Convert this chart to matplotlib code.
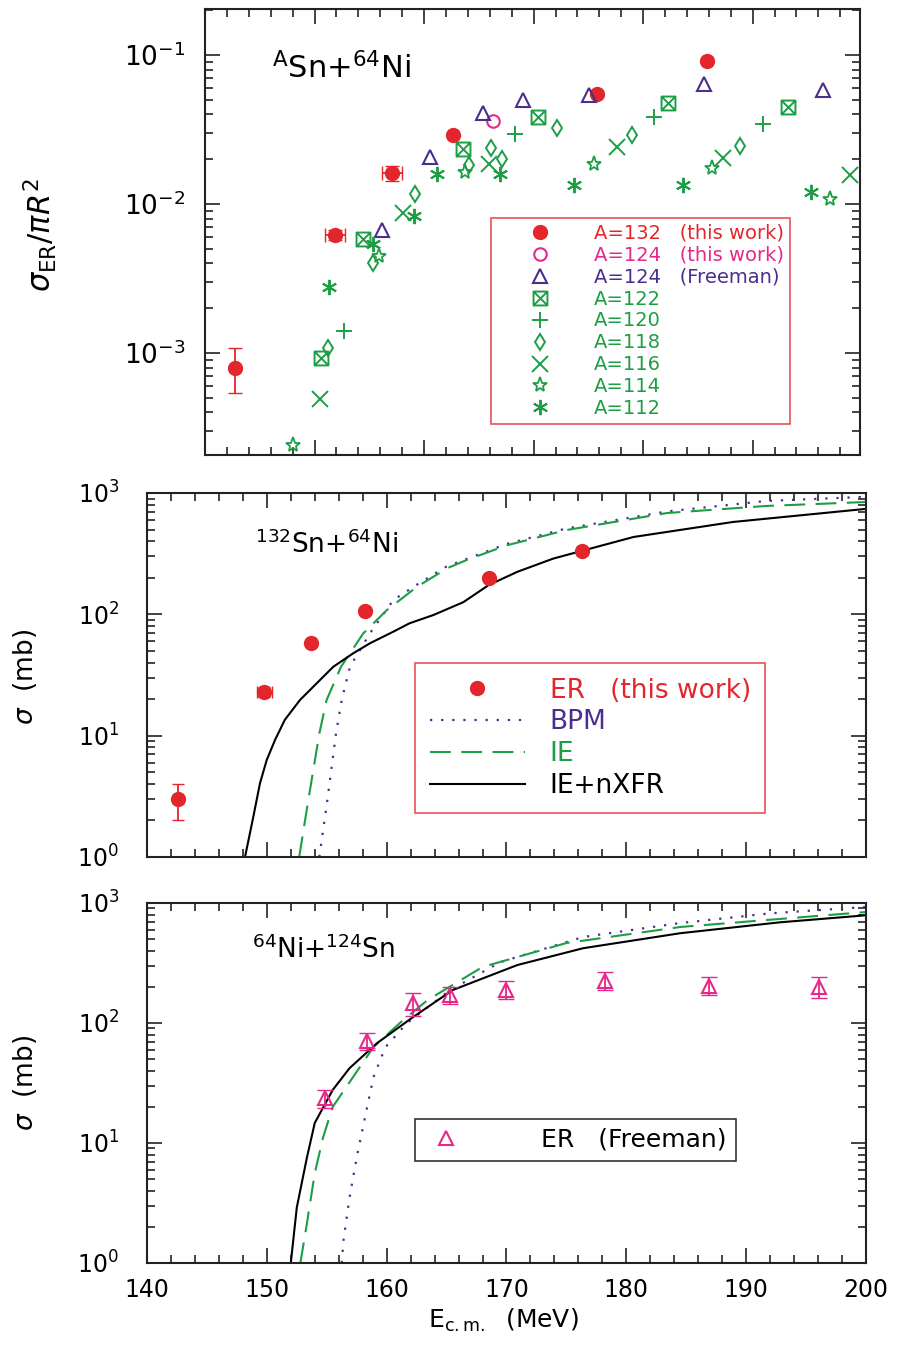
import matplotlib
matplotlib.use("Agg")
import matplotlib.pyplot as plt
from matplotlib.path import Path
from matplotlib.ticker import MultipleLocator, LogLocator, NullFormatter
import numpy as np

RED = "#e3262b"
PINK = "#e5288a"
PURPLE = "#4a2e8f"
GREEN = "#1c9e45"

# ---- top panel: sigma_ER / pi R^2 (x axis unlabeled in original, arbitrary units)
a132_x = [0.27, 1.19, 1.71, 2.26, 3.58, 4.58]
a132_y = [8.0e-4, 6.2e-3, 1.61e-2, 2.9e-2, 5.5e-2, 9.1e-2]
a132_ylo = [5.4e-4, 5.7e-3, 1.42e-2, 2.9e-2, 5.5e-2, 9.1e-2]
a132_yhi = [1.08e-3, 6.7e-3, 1.81e-2, 2.9e-2, 5.5e-2, 9.1e-2]
a132_xerr = [0.0, 0.09, 0.09, 0.0, 0.0, 0.0]

a124_x = [2.63]
a124_y = [3.6e-2]

fr124_x = [1.62, 2.05, 2.54, 2.90, 3.51, 4.56, 5.64]
fr124_y = [6.7e-3, 2.07e-2, 4.08e-2, 5.0e-2, 5.4e-2, 6.4e-2, 5.8e-2]

a122_x = [1.06, 1.44, 2.36, 3.04, 4.23, 5.32]
a122_y = [9.2e-4, 5.8e-3, 2.34e-2, 3.84e-2, 4.76e-2, 4.48e-2]

a120_x = [1.27, 2.83, 4.10, 5.09]
a120_y = [1.41e-3, 2.95e-2, 3.84e-2, 3.44e-2]

a118_x = [1.12, 1.53, 1.92, 2.41, 2.61, 2.71, 3.21, 3.90, 4.88]
a118_y = [1.08e-3, 4.0e-3, 1.17e-2, 1.83e-2, 2.38e-2, 2.0e-2, 3.24e-2, 2.9e-2, 2.45e-2]

a116_x = [1.05, 1.81, 2.59, 3.76, 4.73, 5.89]
a116_y = [4.9e-4, 8.7e-3, 1.85e-2, 2.41e-2, 2.04e-2, 1.57e-2]

a114_x = [0.80, 1.59, 2.37, 3.55, 4.63, 5.71]
a114_y = [2.4e-4, 4.5e-3, 1.64e-2, 1.85e-2, 1.75e-2, 1.08e-2]

a112_x = [1.13, 1.53, 1.91, 2.12, 2.69, 3.37, 4.36, 5.53]
a112_y = [2.77e-3, 5.4e-3, 8.3e-3, 1.59e-2, 1.59e-2, 1.34e-2, 1.34e-2, 1.2e-2]

# ---- middle panel: 132Sn+64Ni
mid_er_x = [142.6, 149.8, 153.7, 158.2, 168.5, 176.3]
mid_er_y = [3.0, 23.0, 58.0, 106.0, 199.0, 333.0]
mid_er_yerr = [1.0, 2.0, 4.0, 6.0, 10.0, 15.0]
mid_er_xerr = [0.0, 0.6, 0.3, 0.0, 0.0, 0.0]

mid_bpm_x = [154.38, 155.05, 155.77, 156.25, 156.94, 158.6, 160.55, 162.5, 165.0, 170.0, 175.0, 183.4, 191.7, 200.0]
mid_bpm_y = [1.0, 2.94, 10.4, 19.7, 37.0, 69.7, 131.0, 175.0, 248.0, 380.0, 510.0, 705.0, 860.0, 930.0]

mid_ie_x = [152.7, 153.46, 154.38, 154.99, 156.19, 158.05, 160.0, 162.5, 165.1, 166.7, 170.0, 175.0, 183.4, 191.7, 200.0]
mid_ie_y = [1.0, 2.94, 10.4, 19.7, 37.0, 69.7, 108.0, 168.0, 241.0, 281.0, 370.0, 495.0, 684.0, 782.0, 843.0]

mid_iex_x = [148.18, 148.87, 149.43, 149.99, 150.68, 151.5, 152.77, 154.16, 155.55, 157.2, 158.6,
             160.55, 161.9, 163.9, 166.4, 168.5, 170.9, 173.9, 180.6, 188.9, 200.0]
mid_iex_y = [1.0, 2.14, 4.06, 6.3, 9.2, 13.5, 19.7, 27.0, 37.0, 47.7, 57.7,
             71.9, 84.3, 98.7, 126.0, 174.0, 224.0, 288.0, 434.0, 577.0, 740.0]

# ---- bottom panel: 64Ni+124Sn
bot_er_x = [154.85, 158.4, 162.2, 165.3, 170.0, 178.2, 186.9, 196.1]
bot_er_y = [23.7, 70.8, 147.0, 171.0, 188.0, 224.0, 203.0, 200.0]
bot_er_lo = [19.5, 59.6, 115.0, 145.0, 158.0, 188.0, 171.0, 162.0]
bot_er_hi = [27.5, 82.5, 178.0, 200.0, 224.0, 266.0, 241.0, 241.0]

bot_bpm_x = [156.25, 156.4, 156.9, 157.5, 158.2, 158.9, 159.9, 161.7, 165.3, 169.5, 176.4, 184.5, 192.0, 200.0]
bot_bpm_y = [1.0, 1.55, 3.5, 7.6, 16.5, 35.5, 63.0, 100.0, 188.0, 322.0, 521.0, 681.0, 820.0, 926.0]

bot_ie_x = [152.8, 153.35, 154.0, 154.7, 155.5, 157.2, 158.9, 161.1, 163.4, 168.0, 175.0, 184.5, 200.0]
bot_ie_y = [1.0, 2.15, 5.6, 11.2, 20.0, 35.5, 63.0, 100.0, 155.0, 293.0, 464.0, 631.0, 841.0]

bot_iex_x = [152.0, 152.5, 153.35, 154.0, 155.5, 156.9, 159.2, 162.2, 165.5, 170.9, 176.4, 184.5, 192.8, 200.0]
bot_iex_y = [1.0, 2.9, 7.6, 14.7, 27.7, 42.0, 68.0, 112.0, 188.0, 304.0, 420.0, 560.0, 690.0, 790.0]


box_x = Path([(-1, -1), (1, -1), (1, 1), (-1, 1), (-1, -1), (1, 1), (-1, 1), (1, -1)],
             [Path.MOVETO, Path.LINETO, Path.LINETO, Path.LINETO, Path.LINETO,
              Path.LINETO, Path.MOVETO, Path.LINETO])

W, H = 900, 1345
fig = plt.figure(figsize=(9, 13.45), dpi=100)


def add_ax(l, t, r, b):
    return fig.add_axes([l / W, 1 - b / H, (r - l) / W, (b - t) / H])


def style(ax, ypad):
    ax.set_yscale("log")
    ax.tick_params(which="both", direction="in", top=True, right=True, width=1.2, color="#222")
    ax.tick_params(which="major", length=11, labelsize=17)
    ax.tick_params(which="minor", length=6)
    ax.tick_params(axis="y", pad=ypad)
    ax.tick_params(axis="x", pad=11)
    ax.yaxis.set_minor_locator(LogLocator(base=10, subs=np.arange(2, 10)))
    ax.yaxis.set_minor_formatter(NullFormatter())
    for s in ax.spines.values():
        s.set_linewidth(1.5)
        s.set_color("#222")


ax1 = add_ax(205, 9, 860, 455)
ax2 = add_ax(147, 493, 866, 857)
ax3 = add_ax(147, 903, 866, 1263)

# ---------------- top
style(ax1, 14)
ax1.tick_params(axis="y", which="major", labelsize=19)
ax1.set_xlim(0, 5.98)
ax1.set_ylim(2.07e-4, 0.204)
ax1.xaxis.set_major_locator(MultipleLocator(1))
ax1.xaxis.set_minor_locator(MultipleLocator(0.2))
ax1.tick_params(axis="x", labelbottom=False)

ax1.errorbar(a132_x, a132_y,
             yerr=[np.array(a132_y) - np.array(a132_ylo), np.array(a132_yhi) - np.array(a132_y)],
             xerr=a132_xerr, fmt="none", ecolor=RED, elinewidth=1.3, capsize=5)
h = []
h += ax1.plot(a132_x, a132_y, "o", color=RED, ms=10, label="A=132   (this work)")
h += ax1.plot(a124_x, a124_y, "o", mfc="none", mec=PINK, mew=1.5, ms=9, label="A=124   (this work)")
h += ax1.plot(fr124_x, fr124_y, "^", mfc="none", mec=PURPLE, mew=1.5, ms=10, label="A=124   (Freeman)")
h += ax1.plot(a122_x, a122_y, marker=box_x, ls="none", mfc="none", mec=GREEN, mew=1.4, ms=10, label="A=122")
h += ax1.plot(a120_x, a120_y, "+", color=GREEN, mew=1.4, ms=12, label="A=120")
h += ax1.plot(a118_x, a118_y, "d", mfc="none", mec=GREEN, mew=1.4, ms=8, label="A=118")
h += ax1.plot(a116_x, a116_y, "x", color=GREEN, mew=1.4, ms=11, label="A=116")
h += ax1.plot(a114_x, a114_y, "*", mfc="none", mec=GREEN, mew=1.3, ms=11, label="A=114")
h += ax1.plot(a112_x, a112_y, marker=(6, 2, 0), ls="none", color=GREEN, mew=1.4, ms=11, label="A=112")

leg1 = ax1.legend(handles=h, loc="upper left",
                  bbox_to_anchor=((491 - 205) / 655, (455 - 218) / 446),
                  fontsize=14, fancybox=False, edgecolor=RED, borderpad=0.3,
                  handlelength=4.4, handletextpad=0.6, labelspacing=0.15, borderaxespad=0,
                  labelcolor=[RED, PINK, PURPLE] + [GREEN] * 6)
leg1.get_frame().set_linewidth(1.2)

ax1.text((272 - 205) / 655, (455 - 68) / 446, r"$^{\rm A}$Sn+$^{64}$Ni",
         transform=ax1.transAxes, fontsize=22, va="center")

# ---------------- middle
style(ax2, 20)
ax2.set_xlim(140, 200)
ax2.set_ylim(1, 1000)
ax2.xaxis.set_major_locator(MultipleLocator(10))
ax2.xaxis.set_minor_locator(MultipleLocator(2))
ax2.tick_params(axis="x", labelbottom=False)

hb, = ax2.plot(mid_bpm_x, mid_bpm_y, color=PURPLE, lw=1.6, ls=(0, (1, 4)), label="BPM")
hi, = ax2.plot(mid_ie_x, mid_ie_y, color=GREEN, lw=1.5, ls=(0, (10, 5)), label="IE")
hx, = ax2.plot(mid_iex_x, mid_iex_y, color="black", lw=1.5, label="IE+nXFR")
ax2.errorbar(mid_er_x, mid_er_y, yerr=mid_er_yerr, xerr=mid_er_xerr, fmt="none",
             ecolor=RED, elinewidth=1.3, capsize=4.5)
he, = ax2.plot(mid_er_x, mid_er_y, "o", color=RED, ms=10, label="ER   (this work)")

leg2 = ax2.legend(handles=[he, hb, hi, hx], loc="upper left",
                  bbox_to_anchor=((415 - 147) / 719, (857 - 663) / 364),
                  fontsize=19, fancybox=False, edgecolor=RED, borderpad=0.55,
                  handlelength=3.6, handletextpad=0.95, labelspacing=0.22, borderaxespad=0,
                  labelcolor=[RED, PURPLE, GREEN, "black"])
leg2.get_frame().set_linewidth(1.2)

ax2.text((255 - 147) / 719, (857 - 545) / 364, r"$^{132}$Sn+$^{64}$Ni",
         transform=ax2.transAxes, fontsize=19, va="center")

# ---------------- bottom
style(ax3, 20)
ax3.set_xlim(140, 200)
ax3.set_ylim(1, 1000)
ax3.xaxis.set_major_locator(MultipleLocator(10))
ax3.xaxis.set_minor_locator(MultipleLocator(2))

ax3.plot(bot_bpm_x, bot_bpm_y, color=PURPLE, lw=1.6, ls=(0, (1, 4)))
ax3.plot(bot_ie_x, bot_ie_y, color=GREEN, lw=1.5, ls=(0, (10, 5)))
ax3.plot(bot_iex_x, bot_iex_y, color="black", lw=1.5)
ax3.errorbar(bot_er_x, bot_er_y,
             yerr=[np.array(bot_er_y) - np.array(bot_er_lo), np.array(bot_er_hi) - np.array(bot_er_y)],
             fmt="none", ecolor=PINK, elinewidth=1.3, capsize=5.5)
hf, = ax3.plot(bot_er_x, bot_er_y, "^", mfc="none", mec=PINK, mew=1.5, ms=10, label="ER   (Freeman)")

leg3 = ax3.legend(handles=[hf], loc="upper left",
                  bbox_to_anchor=((415 - 147) / 719, (1263 - 1119) / 360),
                  fontsize=18, fancybox=False, edgecolor="black", borderpad=0.35,
                  handlelength=1.8, handletextpad=2.9, borderaxespad=0)
leg3.get_frame().set_linewidth(1.2)

ax3.text((252 - 147) / 719, (1263 - 950) / 360, r"$^{64}$Ni+$^{124}$Sn",
         transform=ax3.transAxes, fontsize=19, va="center")

# ---------------- axis titles
fig.text(40 / W, 1 - 235 / H, r"$\sigma_{\rm ER}/\pi R^2$", rotation=90,
         fontsize=22, ha="center", va="center")
fig.text(25 / W, 1 - 677 / H, r"$\sigma$  (mb)", rotation=90,
         fontsize=19, ha="center", va="center")
fig.text(25 / W, 1 - 1083 / H, r"$\sigma$  (mb)", rotation=90,
         fontsize=19, ha="center", va="center")
fig.text(503 / W, 1 - 1320 / H, r"E$_{\rm c.m.}$  (MeV)", fontsize=18,
         ha="center", va="center")

fig.savefig("out.png", dpi=100)
